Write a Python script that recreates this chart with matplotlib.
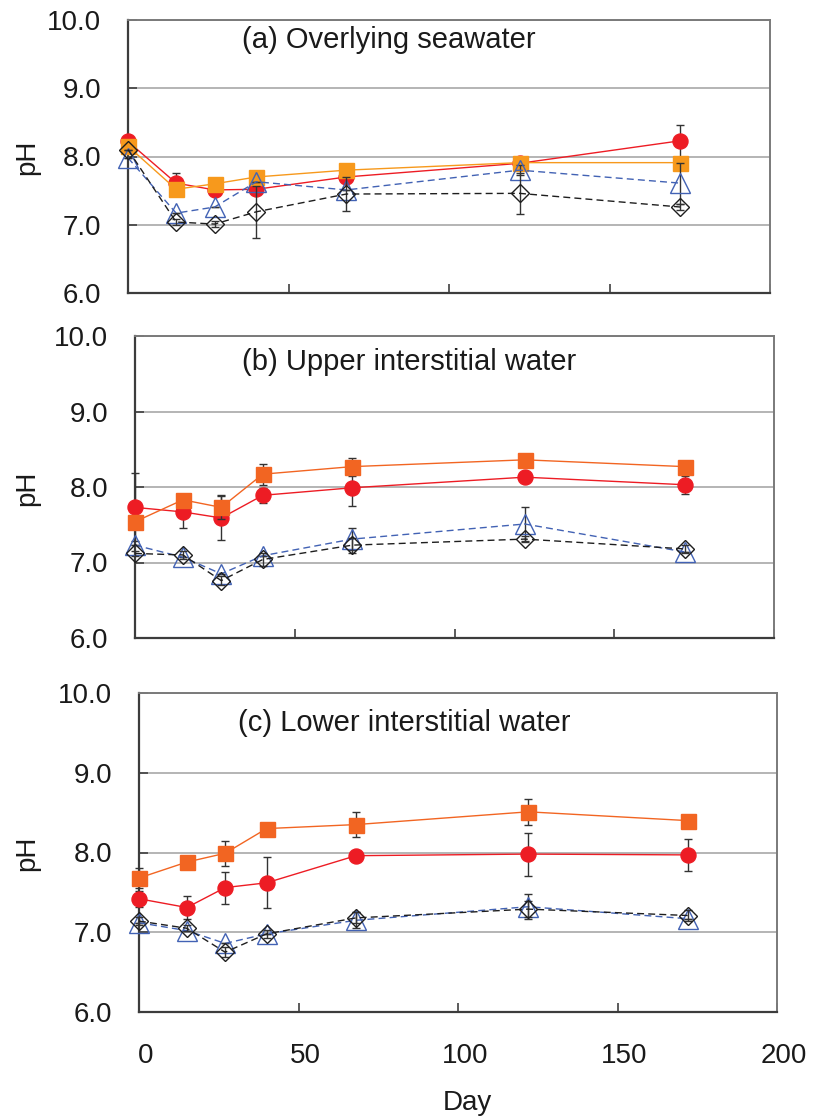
import matplotlib
matplotlib.use("Agg")
import matplotlib.pyplot as plt
from matplotlib.transforms import ScaledTranslation

plt.rcParams['font.family'] = ['Liberation Sans', 'DejaVu Sans']
plt.rcParams['font.size'] = 20

# sampling days (same for all three layers)
days = [0, 15, 27, 40, 68, 122, 172]

# (a) overlying seawater
a_circle = [8.22, 7.61, 7.51, 7.52, 7.70, 7.90, 8.23]
a_circle_err = [0, 0.15, 0, 0, 0, 0, 0.23]
a_square = [8.15, 7.52, 7.60, 7.70, 7.80, 7.91, 7.91]
a_square_err = [0, 0, 0, 0, 0, 0, 0]
a_triangle = [7.98, 7.17, 7.26, 7.63, 7.51, 7.80, 7.61]
a_triangle_err = [0, 0, 0, 0, 0, 0.07, 0.30]
a_diamond = [8.10, 7.04, 7.01, 7.19, 7.45, 7.46, 7.26]
a_diamond_err = [0, 0.05, 0.05, 0.38, 0.25, 0.30, 0.05]

# (b) upper interstitial water
b_circle = [7.73, 7.67, 7.59, 7.89, 7.99, 8.13, 8.03]
b_circle_err = [0.45, 0.21, 0.29, 0.10, 0.24, 0, 0.12]
b_square = [7.54, 7.83, 7.73, 8.17, 8.27, 8.36, 8.27]
b_square_err = [0, 0, 0.16, 0.14, 0.12, 0, 0]
b_triangle = [7.23, 7.07, 6.85, 7.09, 7.31, 7.51, 7.14]
b_triangle_err = [0, 0, 0, 0, 0.15, 0.23, 0]
b_diamond = [7.12, 7.10, 6.76, 7.04, 7.23, 7.31, 7.18]
b_diamond_err = [0.03, 0.05, 0.06, 0.08, 0.10, 0.04, 0.05]

# (c) lower interstitial water
c_circle = [7.42, 7.31, 7.56, 7.62, 7.96, 7.98, 7.97]
c_circle_err = [0.10, 0.15, 0.20, 0.32, 0, 0.27, 0.20]
c_square = [7.68, 7.88, 7.99, 8.30, 8.35, 8.51, 8.40]
c_square_err = [0.13, 0, 0.16, 0, 0.16, 0.16, 0]
c_triangle = [7.12, 7.02, 6.86, 6.98, 7.15, 7.32, 7.17]
c_triangle_err = [0, 0, 0, 0, 0.10, 0.16, 0]
c_diamond = [7.14, 7.05, 6.75, 6.98, 7.18, 7.29, 7.21]
c_diamond_err = [0.05, 0.04, 0.06, 0.05, 0.07, 0.10, 0.07]

titles = ['(a) Overlying seawater', '(b) Upper interstitial water', '(c) Lower interstitial water']
x_ticks = [0, 50, 100, 150, 200]
y_ticks = [6.0, 7.0, 8.0, 9.0, 10.0]

W, H = 813, 1119
fig = plt.figure(figsize=(W / 100, H / 100), dpi=100)

# axes boxes in pixels: left, right, top, bottom
boxes = [(128, 770, 20, 293), (135, 774, 336, 638), (139, 777, 693, 1012)]
title_pos = [(242, 48), (242, 370), (238, 731)]

RED = '#ED1C24'
BLUE = '#4262B4'
DARK = '#1E1E1E'
err_kw = dict(ecolor='#333333', elinewidth=1, capsize=3.2, capthick=1)


def draw_panel(ax, circle, circle_err, square, square_err, sq_color,
               triangle, triangle_err, diamond, diamond_err):
    ax.errorbar(days, circle, yerr=circle_err, color=RED, lw=1, marker='o', ms=10.8,
                mfc=RED, mec=RED, clip_on=False, zorder=3, **err_kw)
    ax.errorbar(days, square, yerr=square_err, color=sq_color, lw=1, marker='s', ms=10.8,
                mfc=sq_color, mec=sq_color, clip_on=False, zorder=4, **err_kw)
    ax.errorbar(days, triangle, yerr=triangle_err, color=BLUE, lw=1, ls=(0, (5, 3)),
                marker='^', ms=14, mfc='none', mec=BLUE, mew=1, clip_on=False, zorder=5, **err_kw)
    ax.errorbar(days, diamond, yerr=diamond_err, color=DARK, lw=1, ls=(0, (5, 3)),
                marker='D', ms=9.2, mfc='none', mec=DARK, mew=1, clip_on=False, zorder=6, **err_kw)

    ax.set_xlim(0, 200)
    ax.set_ylim(6, 10)
    ax.set_xticks(x_ticks)
    ax.set_yticks(y_ticks)
    ax.yaxis.set_major_formatter(matplotlib.ticker.FormatStrFormatter('%.1f'))
    ax.grid(axis='y', color='#A8A8A8', lw=1.2)
    ax.set_axisbelow(True)
    ax.tick_params(direction='in', length=6.5, width=1.2, color='#404040',
                   labelcolor='#1A1A1A', labelsize=20)
    ax.tick_params(axis='y', pad=19.5)
    ax.tick_params(axis='x', pad=22)
    for side in ['left', 'bottom']:
        ax.spines[side].set_color('#3C3C3C')
        ax.spines[side].set_linewidth(1.6)
    for side in ['top', 'right']:
        ax.spines[side].set_color('#7A7A7A')
        ax.spines[side].set_linewidth(1.4)


panels = [
    (a_circle, a_circle_err, a_square, a_square_err, '#F7991C', a_triangle, a_triangle_err, a_diamond, a_diamond_err),
    (b_circle, b_circle_err, b_square, b_square_err, '#F26522', b_triangle, b_triangle_err, b_diamond, b_diamond_err),
    (c_circle, c_circle_err, c_square, c_square_err, '#F26522', c_triangle, c_triangle_err, c_diamond, c_diamond_err),
]

for i, (box, data) in enumerate(zip(boxes, panels)):
    left, right, top, bottom = box
    ax = fig.add_axes([left / W, 1 - bottom / H, (right - left) / W, (bottom - top) / H])
    draw_panel(ax, *data)
    if i < 2:
        ax.tick_params(axis='x', labelbottom=False)
    else:
        # day labels sit a little to the right of their ticks
        shift = ScaledTranslation(7 / 100, 0, fig.dpi_scale_trans)
        for lbl in ax.get_xticklabels():
            lbl.set_transform(lbl.get_transform() + shift)
    tx, ty = title_pos[i]
    fig.text(tx / W, 1 - ty / H, titles[i], fontsize=21, color='#1A1A1A',
             ha='left', va='baseline')
    fig.text(27 / W, 1 - ((top + bottom) / 2 + 1) / H, 'pH', fontsize=20, color='#1A1A1A',
             rotation=90, ha='center', va='center')

fig.text(467 / W, 1 - 1110 / H, 'Day', fontsize=20, color='#1A1A1A', ha='center', va='baseline')

fig.savefig('out.png', dpi=100)
